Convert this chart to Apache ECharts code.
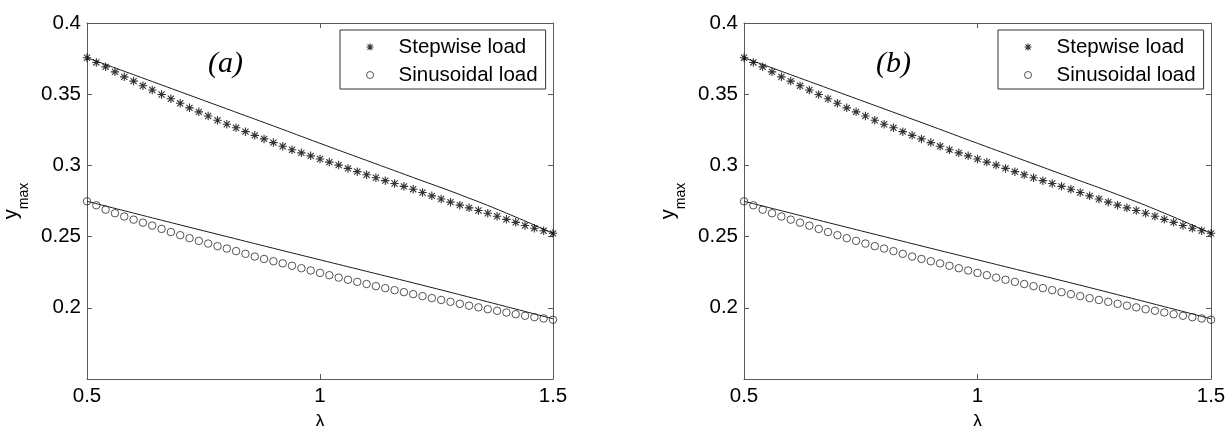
<!DOCTYPE html>
<html>
<head>
<meta charset="utf-8">
<script src="https://cdn.jsdelivr.net/npm/echarts@6/dist/echarts.min.js"></script>
<style>
  html, body { margin: 0; padding: 0; background: #fff; }
  #chart { width: 1231px; height: 426px; }
</style>
</head>
<body>
<div id="chart"></div>
<script>
// Load parameter lambda (sample points of the simulations)
const lambda = [
  0.50, 0.52, 0.54, 0.56, 0.58, 0.60, 0.62, 0.64, 0.66, 0.68,
  0.70, 0.72, 0.74, 0.76, 0.78, 0.80, 0.82, 0.84, 0.86, 0.88,
  0.90, 0.92, 0.94, 0.96, 0.98, 1.00, 1.02, 1.04, 1.06, 1.08,
  1.10, 1.12, 1.14, 1.16, 1.18, 1.20, 1.22, 1.24, 1.26, 1.28,
  1.30, 1.32, 1.34, 1.36, 1.38, 1.40, 1.42, 1.44, 1.46, 1.48,
  1.50
];

// Maximum response y_max, simulated
const stepwise = [
  0.3756, 0.3723, 0.3692, 0.3657, 0.3622, 0.3592, 0.3559, 0.3530, 0.3498, 0.3468,
  0.3436, 0.3404, 0.3376, 0.3347, 0.3317, 0.3289, 0.3264, 0.3237, 0.3211, 0.3186,
  0.3160, 0.3134, 0.3110, 0.3088, 0.3067, 0.3045, 0.3023, 0.3002, 0.2979, 0.2956,
  0.2934, 0.2913, 0.2893, 0.2873, 0.2853, 0.2833, 0.2810, 0.2786, 0.2764, 0.2742,
  0.2721, 0.2702, 0.2683, 0.2664, 0.2643, 0.2621, 0.2600, 0.2578, 0.2559, 0.2541,
  0.2523
];
const sinusoidal = [
  0.2748, 0.2720, 0.2689, 0.2664, 0.2641, 0.2619, 0.2598, 0.2577, 0.2554, 0.2532,
  0.2510, 0.2489, 0.2470, 0.2451, 0.2433, 0.2416, 0.2398, 0.2379, 0.2360, 0.2343,
  0.2327, 0.2312, 0.2295, 0.2278, 0.2262, 0.2245, 0.2229, 0.2212, 0.2197, 0.2182,
  0.2167, 0.2152, 0.2138, 0.2124, 0.2110, 0.2096, 0.2082, 0.2068, 0.2055, 0.2042,
  0.2028, 0.2015, 0.2003, 0.1990, 0.1979, 0.1967, 0.1955, 0.1944, 0.1934, 0.1925,
  0.1916
];

// Analytical approximation (solid curves)
const fitLambda = [0.5, 0.6, 0.7, 0.8, 0.9, 1.0, 1.1, 1.2, 1.3, 1.4, 1.5];
const stepwiseFit = [0.3756, 0.3637, 0.3517, 0.3397, 0.3277, 0.3155, 0.3035, 0.2915, 0.2795, 0.2665, 0.2523];
const sinusoidalFit = [0.2748, 0.2665, 0.2582, 0.2500, 0.2418, 0.2337, 0.2256, 0.2175, 0.2092, 0.2008, 0.1923];

// Tick labels
const xTickLabels = ['0.5', '1', '1.5'];
const yTickLabels = ['', '0.2', '0.25', '0.3', '0.35', '0.4'];
const panelTags = ['(a)', '(b)'];

const FONT = 'Liberation Sans, Arial, sans-serif';
const AXIS_COLOR = '#5a5a5a';
const ASTERISK = 'path://M0,-1L0,1M-1,0L1,0M-0.72,-0.72L0.72,0.72M-0.72,0.72L0.72,-0.72';
const starStyle = { color: 'transparent', borderColor: '#000', borderWidth: 1.1 };
const circleStyle = { color: 'transparent', borderColor: '#2a2a2a', borderWidth: 1 };

const panels = [
  { left: 87, width: 466, legendLeft: 340, tagX: 227 },
  { left: 744, width: 467, legendLeft: 998, tagX: 895 }
];
const gridTop = 23, gridHeight = 356;

const grid = [], xAxis = [], yAxis = [], series = [], legend = [], graphic = [];

panels.forEach((p, i) => {
  grid.push({
    left: p.left, top: gridTop, width: p.width, height: gridHeight,
    containLabel: false, outerBoundsMode: 'none'
  });

  const xBase = {
    gridIndex: i, type: 'value', min: 0.5, max: 1.5, interval: 0.5,
    axisLine: { show: true, onZero: false, lineStyle: { color: AXIS_COLOR, width: 1 } },
    axisTick: { show: true, inside: true, length: 5, lineStyle: { color: AXIS_COLOR } },
    splitLine: { show: false }
  };
  xAxis.push(Object.assign({}, xBase, {
    position: 'bottom',
    name: 'λ', nameLocation: 'middle', nameGap: 25,
    nameTextStyle: { fontFamily: FONT, fontSize: 19, color: '#000' },
    axisLabel: {
      fontFamily: FONT, fontSize: 20.5, color: '#000', margin: 7,
      formatter: v => xTickLabels[Math.round((v - 0.5) / 0.5)]
    }
  }));
  xAxis.push(Object.assign({}, xBase, { position: 'top', axisLabel: { show: false } }));

  const yBase = {
    gridIndex: i, type: 'value', min: 0.15, max: 0.4, interval: 0.05,
    axisLine: { show: true, onZero: false, lineStyle: { color: AXIS_COLOR, width: 1 } },
    axisTick: { show: true, inside: true, length: 5, lineStyle: { color: AXIS_COLOR } },
    splitLine: { show: false }
  };
  yAxis.push(Object.assign({}, yBase, {
    position: 'left',
    name: '{y|y}{s|max}', nameLocation: 'middle', nameGap: 56, nameRotate: 90,
    nameTextStyle: {
      color: '#000',
      rich: {
        y: { fontFamily: FONT, fontSize: 20, color: '#000', lineHeight: 30, verticalAlign: 'top' },
        s: { fontFamily: FONT, fontSize: 14, color: '#000', lineHeight: 30, verticalAlign: 'bottom' }
      }
    },
    axisLabel: {
      fontFamily: FONT, fontSize: 20.5, color: '#000', margin: 6,
      formatter: v => yTickLabels[Math.round((v - 0.15) / 0.05)]
    }
  }));
  yAxis.push(Object.assign({}, yBase, { position: 'right', axisLabel: { show: false } }));

  const xi = i * 2, yi = i * 2;
  series.push({
    name: 'Stepwise load', type: 'scatter', xAxisIndex: xi, yAxisIndex: yi,
    data: lambda.map((l, k) => [l, stepwise[k]]),
    symbol: ASTERISK, symbolSize: 8.5,
    itemStyle: starStyle, silent: true, z: 3
  });
  series.push({
    name: 'Stepwise approximation', type: 'line', xAxisIndex: xi, yAxisIndex: yi,
    data: fitLambda.map((l, k) => [l, stepwiseFit[k]]),
    showSymbol: false, smooth: true,
    lineStyle: { color: '#1a1a1a', width: 1 }, silent: true, z: 2
  });
  series.push({
    name: 'Sinusoidal load', type: 'scatter', xAxisIndex: xi, yAxisIndex: yi,
    data: lambda.map((l, k) => [l, sinusoidal[k]]),
    symbol: 'circle', symbolSize: 7.5,
    itemStyle: circleStyle, silent: true, z: 3
  });
  series.push({
    name: 'Sinusoidal approximation', type: 'line', xAxisIndex: xi, yAxisIndex: yi,
    data: fitLambda.map((l, k) => [l, sinusoidalFit[k]]),
    showSymbol: false, smooth: true,
    lineStyle: { color: '#1a1a1a', width: 1 }, silent: true, z: 2
  });

  legend.push({
    data: [
      { name: 'Stepwise load', icon: ASTERISK, itemStyle: starStyle },
      { name: 'Sinusoidal load', icon: 'circle', itemStyle: circleStyle }
    ],
    orient: 'vertical', left: p.legendLeft, top: 30,
    padding: [6, 8, 3, 26], itemGap: 6,
    itemWidth: 7, itemHeight: 7,
    borderColor: '#333', borderWidth: 1, backgroundColor: '#fff',
    selectedMode: false,
    textStyle: { fontFamily: FONT, fontSize: 20.5, color: '#000', lineHeight: 22, padding: [0, 0, 0, 20] }
  });

  graphic.push({
    type: 'text', left: p.tagX - 19, top: 49,
    style: { text: panelTags[i], font: 'italic 30px "Liberation Serif", "Times New Roman", serif', fill: '#000' }
  });
});

const chart = echarts.init(document.getElementById('chart'), null, { renderer: 'canvas' });
chart.setOption({
  animation: false,
  backgroundColor: '#fff',
  grid, xAxis, yAxis, series, legend, graphic
});
</script>
</body>
</html>
